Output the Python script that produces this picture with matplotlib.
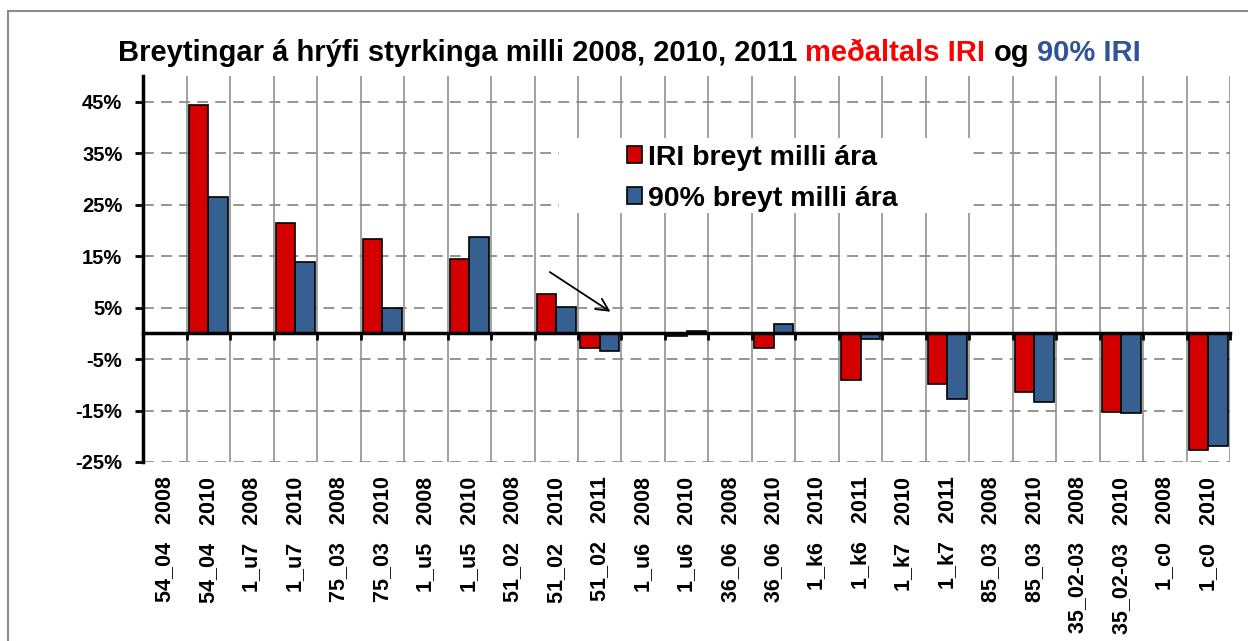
import matplotlib.pyplot as plt
import numpy as np
from matplotlib.lines import Line2D
from matplotlib.patches import Rectangle

plt.rcParams['font.family'] = ['Liberation Sans', 'DejaVu Sans']
plt.rcParams['font.weight'] = 'bold'

nan = np.nan
categories = ['54_04   2008', '54_04   2010', '1_u7   2008', '1_u7   2010',
              '75_03   2008', '75_03   2010', '1_u5   2008', '1_u5   2010',
              '51_02   2008', '51_02   2010', '51_02   2011', '1_u6   2008',
              '1_u6   2010', '36_06   2008', '36_06   2010', '1_k6   2010',
              '1_k6   2011', '1_k7   2010', '1_k7   2011', '85_03   2008',
              '85_03   2010', '35_02-03   2008', '35_02-03   2010',
              '1_c0   2008', '1_c0   2010']
# % breyting milli ára
iri_breyt = [nan, 44.4, nan, 21.5, nan, 18.3, nan, 14.5, nan, 7.7, -2.9, nan,
             -0.5, nan, -2.9, nan, -9.1, nan, -9.9, nan, -11.5, nan, -15.2,
             nan, -22.7]
p90_breyt = [nan, 26.5, nan, 13.9, nan, 5.0, nan, 18.7, nan, 5.2, -3.4, nan,
             0.45, nan, 1.9, nan, -1.2, nan, -12.7, nan, -13.3, nan, -15.5,
             nan, -21.8]
legend_labels = ['IRI breyt milli ára', '90% breyt milli ára']

RED = '#d40000'
BLUE = '#376092'
GRID = '#8c8c8c'

fig = plt.figure(figsize=(12.48, 6.41), dpi=100)
ax = fig.add_axes([0.1148, 0.2793, 0.8708, 0.6021])

x = np.arange(len(categories))
w = 0.45
b1 = ax.bar(x - w / 2, iri_breyt, w, color=RED, edgecolor='black', lw=1.2, zorder=3)
b2 = ax.bar(x + w / 2, p90_breyt, w, color=BLUE, edgecolor='black', lw=1.2, zorder=3)

ax.set_xlim(-0.5, len(categories) - 0.5)
ax.set_ylim(-25, 50)
ax.set_yticks(np.arange(-25, 46, 10))
ax.set_yticklabels(['%d%%' % v for v in np.arange(-25, 46, 10)], fontsize=14.5, fontweight='bold')
ax.tick_params(axis='y', length=6, width=2, direction='out', pad=9)

# lóðréttar línur á milli flokka, strikaðar láréttar
ax.set_xticks(np.arange(-0.5, len(categories), 1))
ax.tick_params(axis='x', length=5, width=2, direction='out', labelbottom=False)
ax.set_axisbelow(True)
ax.xaxis.grid(True, color='#9a9a9a', lw=1.3, linestyle='-')
ax.yaxis.grid(True, color=GRID, lw=1.3, linestyle=(0, (6, 4)))

ax.spines['top'].set_visible(False)
ax.spines['right'].set_visible(False)
ax.spines['left'].set_linewidth(2.5)
ax.spines['bottom'].set_position(('data', 0))
ax.spines['bottom'].set_linewidth(2.5)
ax.spines['bottom'].set_zorder(4)

sec = ax.secondary_xaxis('bottom')
sec.set_xticks(x, categories, rotation=90, fontsize=15.5, fontweight='bold')
sec.tick_params(length=0, pad=10.5)
sec.spines['bottom'].set_visible(False)

# legend
ax.add_patch(Rectangle((0.383, 0.645), 0.378, 0.194, transform=ax.transAxes,
                       facecolor='white', edgecolor='none', zorder=2.5))
ax.legend([b1, b2], legend_labels, loc='upper left', bbox_to_anchor=(0.445, 0.8225),
          frameon=False, prop=dict(size=20.5, weight='bold'), handlelength=0.53,
          handleheight=0.53, handletextpad=0.22, labelspacing=0.53, borderpad=0,
          borderaxespad=0)

# ör
ax.annotate('', xy=(10.30, 3.9), xytext=(8.80, 12.2),
            arrowprops=dict(arrowstyle='->', color='black', lw=1.3, mutation_scale=22))

# titill í litum
parts = [('Breytingar á hrýfi styrkinga milli 2008, 2010, 2011', 'black'),
         ('meðaltals IRI', '#ff0000'), ('og', 'black'), ('90% IRI', '#2f5597')]
fig.canvas.draw()
r = fig.canvas.get_renderer()
xpos = 118
fs = 21
space = 0.278 * fs * 100 / 72
for s, c in parts:
    t = fig.text(xpos / 1248, 1 - 61 / 641, s, color=c, fontsize=fs,
                 fontweight='bold', va='baseline', ha='left')
    xpos += t.get_window_extent(r).width + space

# rammi
fig.add_artist(Line2D([8 / 1248, 8 / 1248], [0, 1 - 11 / 641], transform=fig.transFigure,
                      color=GRID, lw=1.5))
fig.add_artist(Line2D([8 / 1248, 1], [1 - 11 / 641, 1 - 11 / 641], transform=fig.transFigure,
                      color=GRID, lw=1.5))

fig.savefig('out.png', dpi=100)
